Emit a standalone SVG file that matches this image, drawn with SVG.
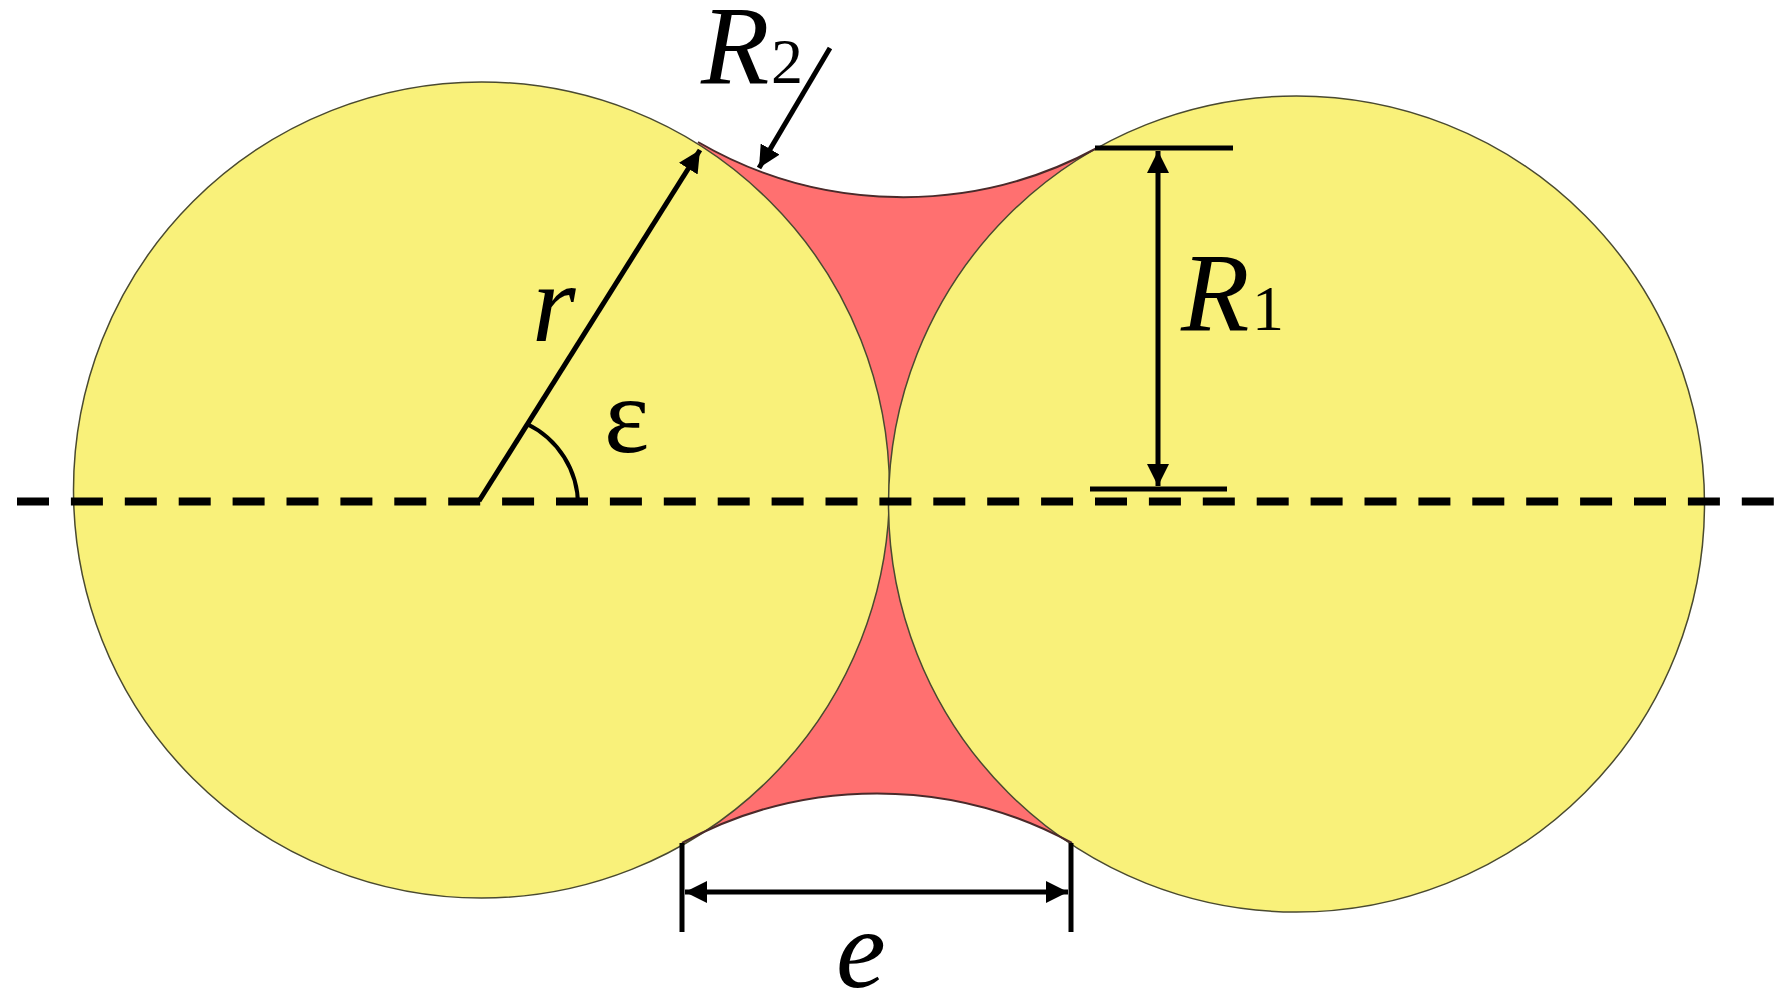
<svg xmlns="http://www.w3.org/2000/svg" width="1787" height="1008" viewBox="0 0 1787 1008">
<style>
.ln{fill:none;stroke:#000;stroke-width:5}
.c{fill:#f9f17a;stroke:#4a4a30;stroke-width:1.5}
.t{font-family:"Liberation Serif","Times New Roman",serif;fill:#000}
.i{font-style:italic;font-size:112px}
.s{font-size:64px}
</style>
<defs>
<marker id="a" markerUnits="userSpaceOnUse" markerWidth="22" markerHeight="22" refX="20" refY="10" orient="auto-start-reverse" viewBox="0 0 20 20"><path d="M0 0L20 10L0 20Z" fill="#000"/></marker>
</defs>
<rect width="1787" height="1008" fill="#fff"/>
<g id="fillet">
<path d="M698 142A408 408 0 0 0 1097 148L1160 500L1072 843A408 408 0 0 0 682 843L800 500Z" fill="#ff7070"/>
</g>
<g id="circle-left"><circle class="c" cx="481.500" cy="490" r="408"/></g>
<g id="circle-right"><circle class="c" cx="1296.500" cy="504" r="408"/></g>
<g id="arcs">
<path d="M698 142A408 408 0 0 0 1097 148" fill="none" stroke="#4a2a2a" stroke-width="2"/>
<path d="M682 843A408 408 0 0 1 1072 843" fill="none" stroke="#4a2a2a" stroke-width="2"/>
</g>
<g id="connectors">
<line x1="17" y1="501.500" x2="1775" y2="501.500" stroke="#000" stroke-width="8" stroke-dasharray="32 21.900"/>
<line class="ln" x1="479" y1="501" x2="700" y2="150" marker-end="url(#a)"/>
<path class="ln" style="stroke-width:4" d="M527 424A90 90 0 0 1 578 505"/>
<line class="ln" x1="830" y1="48" x2="759" y2="168" marker-end="url(#a)"/>
<line class="ln" x1="1095" y1="148" x2="1233" y2="148"/>
<line class="ln" x1="1090" y1="489" x2="1227" y2="489"/>
<line class="ln" x1="1158" y1="151" x2="1158" y2="486" marker-start="url(#a)" marker-end="url(#a)"/>
<line class="ln" x1="682" y1="843" x2="682" y2="932"/>
<line class="ln" x1="1071" y1="843" x2="1071" y2="932"/>
<line class="ln" x1="685" y1="892" x2="1068" y2="892" marker-start="url(#a)" marker-end="url(#a)"/>
</g>
<g id="labels">
<text class="t i" x="701" y="83">R</text><text class="t s" x="771" y="83">2</text>
<text class="t i" x="1181" y="330">R</text><text class="t s" x="1252" y="330">1</text>
<text class="t i" x="532" y="341">r</text>
<text class="t i" x="836" y="987">e</text>
<text class="t" font-size="108" x="604" y="452">ε</text>
</g>
</svg>
